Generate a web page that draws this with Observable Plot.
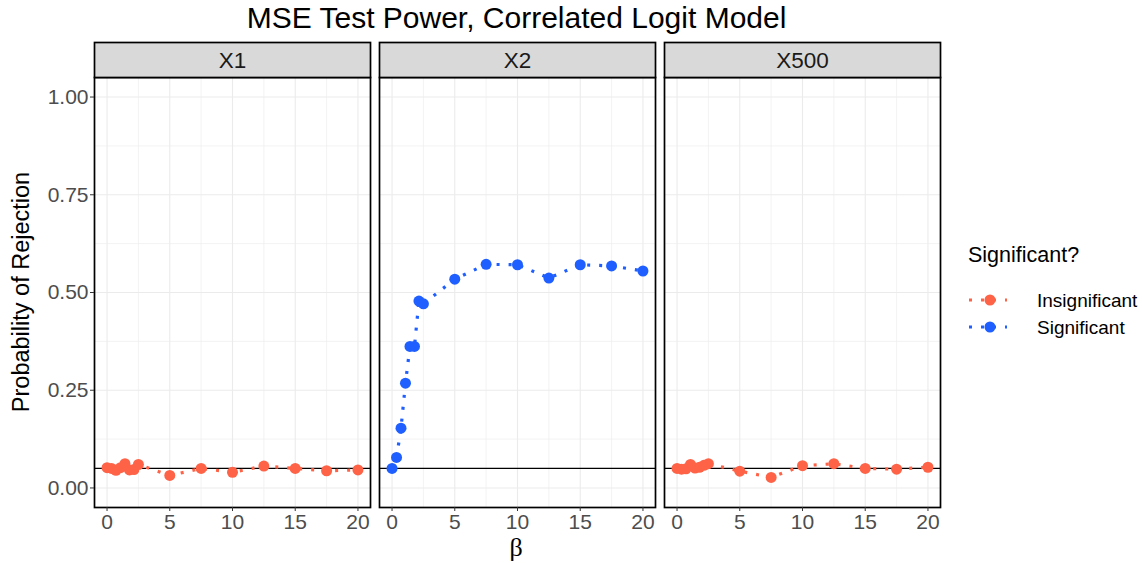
<!DOCTYPE html>
<html>
<head>
<meta charset="utf-8">
<script src="https://cdn.jsdelivr.net/npm/d3@7"></script>
<script src="https://cdn.jsdelivr.net/npm/@observablehq/plot@0.6"></script>
<style>
  html, body { margin: 0; padding: 0; background: white; }
  #wrap { position: relative; width: 1142px; height: 563px; font-family: "Liberation Sans", Arial, sans-serif; }
  #title { position: absolute; left: 93px; width: 847px; top: 0px; text-align: center; font-size: 30px; line-height: 36px; color: #000; }
  #ylab { position: absolute; left: 21px; top: 292px; transform: translate(-50%, -50%) rotate(-90deg); font-size: 23.5px; color: #000; white-space: nowrap; }
  #xlab { position: absolute; left: 516px; top: 548px; transform: translate(-50%, -50%); font-size: 26px; font-family: "Liberation Serif", "DejaVu Serif", serif; color: #000; }
  #legend { position: absolute; left: 960px; top: 235px; }
  #chart { position: absolute; left: 0; top: 0; }
</style>
</head>
<body>
<div id="wrap">
  <div id="chart"></div>
  <div id="title">MSE Test Power, Correlated Logit Model</div>
  <div id="ylab">Probability of Rejection</div>
  <div id="xlab">β</div>
  <div id="legend"></div>
</div>
<script>
// ---- data ----
const panels = ["X1", "X2", "X500"];
const significance = ["Insignificant", "Significant", "Insignificant"];
const beta = [0, 0.357, 0.714, 1.071, 1.429, 1.786, 2.143, 2.5, 5, 7.5, 10, 12.5, 15, 17.5, 20];
const powerX1 = [0.052, 0.050, 0.045, 0.052, 0.062, 0.046, 0.047, 0.060, 0.032, 0.050, 0.040, 0.056, 0.050, 0.044, 0.046];
const powerX2 = [0.050, 0.078, 0.153, 0.268, 0.362, 0.362, 0.478, 0.471, 0.534, 0.572, 0.571, 0.537, 0.571, 0.568, 0.555];
const powerX500 = [0.050, 0.048, 0.049, 0.060, 0.051, 0.053, 0.058, 0.062, 0.043, 0.027, 0.057, 0.062, 0.050, 0.048, 0.053];
const nominalLevel = [0.05];
const xTicks = [0, 5, 10, 15, 20];
const xMinor = [2.5, 7.5, 12.5, 17.5];
const yTicks = [0, 0.25, 0.5, 0.75, 1];
const yMinor = [0.125, 0.375, 0.625, 0.875];
const legendLabels = ["Insignificant", "Significant"];
const legendColors = ["#FF6347", "#1F5FFF"];

const series = [powerX1, powerX2, powerX500];
const data = panels.flatMap((p, i) => beta.map((b, j) => ({panel: p, beta: b, power: series[i][j], sig: significance[i]})));

const plot = Plot.plot({
  width: 950,
  height: 563,
  marginLeft: 93,
  marginRight: 10,
  marginTop: 77,
  marginBottom: 56,
  style: {fontFamily: "'Liberation Sans', Arial, sans-serif", fontSize: "21px", color: "#4d4d4d", background: "transparent", overflow: "visible"},
  fx: {domain: panels, paddingInner: 0.032, paddingOuter: 0, axis: null, label: null},
  x: {domain: [-1, 21], label: null},
  y: {domain: [-0.05, 1.05], label: null},
  color: {domain: legendLabels, range: legendColors},
  marks: [
    Plot.frame({fill: "white"}),
    Plot.ruleX(xMinor, {stroke: "#ebebeb", strokeWidth: 0.6}),
    Plot.ruleY(yMinor, {stroke: "#ebebeb", strokeWidth: 0.6}),
    Plot.ruleX(xTicks, {stroke: "#ebebeb", strokeWidth: 1.1}),
    Plot.ruleY(yTicks, {stroke: "#ebebeb", strokeWidth: 1.1}),
    Plot.ruleY(nominalLevel, {stroke: "black", strokeWidth: 1.1}),
    Plot.line(data, {fx: "panel", x: "beta", y: "power", z: "panel", stroke: "sig", strokeWidth: 3.2, strokeDasharray: "3,9", strokeLinecap: "butt"}),
    Plot.dot(data, {fx: "panel", x: "beta", y: "power", fill: "sig", r: 5.5}),
    Plot.frame({stroke: "black", strokeWidth: 1.7}),
    Plot.frame({fill: "#d9d9d9", stroke: "black", strokeWidth: 1.7, insetTop: -35, insetBottom: 430}),
    Plot.text(panels, {fx: d => d, text: d => d, frameAnchor: "top", lineAnchor: "middle", dy: -17, fill: "#1a1a1a", fontSize: 22.5}),
    Plot.axisX({ticks: xTicks, tickFormat: d => String(d), tickSize: 4, tickPadding: 3, label: null, stroke: "#333", fontSize: 21}),
    Plot.axisY({ticks: yTicks, tickFormat: d3.format(".2f"), tickSize: 4, tickPadding: 2, label: null, stroke: "#333", fontSize: 21})
  ]
});
document.getElementById("chart").appendChild(plot);

// legend (line + point glyphs)
const lg = d3.select("#legend").append("svg").attr("width", 182).attr("height", 110)
  .style("font-family", "'Liberation Sans', Arial, sans-serif");
lg.append("text").attr("x", 8).attr("y", 27).attr("font-size", 21.5).attr("fill", "#000").text("Significant?");
legendLabels.forEach((lab, i) => {
  const cy = 65 + i * 27;
  lg.append("line").attr("x1", 9).attr("x2", 47).attr("y1", cy).attr("y2", cy)
    .attr("stroke", legendColors[i]).attr("stroke-width", 3.2).attr("stroke-dasharray", "3,9");
  lg.append("circle").attr("cx", 30).attr("cy", cy).attr("r", 5.5).attr("fill", legendColors[i]);
  lg.append("text").attr("x", 77).attr("y", cy).attr("dy", "0.35em").attr("font-size", 19).attr("fill", "#000").text(lab);
});
</script>
</body>
</html>
